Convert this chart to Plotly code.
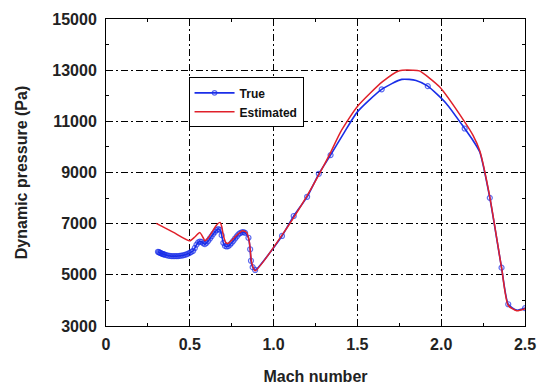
import plotly.graph_objects as go

# True (measured) dynamic pressure
true_mach = [0.31, 0.315, 0.32, 0.325, 0.33, 0.335, 0.34, 0.345, 0.35, 0.36, 0.37, 0.38, 0.39, 0.40,
             0.41, 0.42, 0.43, 0.44, 0.45, 0.46, 0.47, 0.48, 0.49, 0.50, 0.51, 0.52, 0.53, 0.54,
             0.55, 0.56, 0.57, 0.58, 0.59, 0.60, 0.61, 0.62, 0.63, 0.64, 0.65, 0.66, 0.67, 0.68,
             0.69, 0.70, 0.71, 0.72, 0.73, 0.74, 0.75, 0.76, 0.77, 0.78, 0.79, 0.80, 0.81, 0.82,
             0.83, 0.85, 0.86, 0.865, 0.875, 0.89,
             1.05, 1.12, 1.20, 1.27, 1.34, 1.42, 1.50, 1.645, 1.765, 1.85, 1.92,
             2.03, 2.14, 2.19, 2.23, 2.29, 2.36, 2.40, 2.45, 2.50]
true_q = [5900, 5885, 5870, 5855, 5840, 5825, 5810, 5800, 5790, 5770, 5750, 5740, 5730, 5730,
          5730, 5730, 5735, 5740, 5750, 5760, 5780, 5800, 5830, 5860, 5900, 5940, 6050, 6180,
          6270, 6300, 6290, 6230, 6200, 6250, 6330, 6420, 6510, 6600, 6680, 6750, 6790, 6760,
          6550, 6250, 6130, 6110, 6120, 6180, 6250, 6330, 6420, 6500, 6580, 6630, 6660, 6670,
          6640, 6450, 6000, 5550, 5300, 5190,
          6520, 7300, 8050, 8950, 9680, 10550, 11370, 12250, 12640, 12600, 12375,
          11700, 10720, 10250, 9800, 8010, 5280, 3850, 3620, 3700]
# Mach values where the measured series shows a circle marker in the high-Mach range
true_marker_mach_high = [1.05, 1.12, 1.20, 1.27, 1.34, 1.645, 1.92, 2.14, 2.29, 2.36, 2.40, 2.50]

# Estimated dynamic pressure
est_mach = [0.30, 0.40, 0.50, 0.53, 0.56, 0.58, 0.59, 0.61, 0.64, 0.66, 0.68, 0.69,
            0.70, 0.715, 0.73, 0.75, 0.78, 0.815, 0.84, 0.855, 0.87, 0.89,
            1.05, 1.20, 1.34, 1.40, 1.50, 1.65, 1.75, 1.83, 1.87, 1.99, 2.14,
            2.19, 2.23, 2.29, 2.36, 2.40, 2.45, 2.50]
est_q = [7010, 6670, 6330, 6480, 6650, 6450, 6330, 6450, 6750, 6950, 7050, 6900,
         6550, 6260, 6230, 6350, 6550, 6720, 6650, 6300, 5450, 5160,
         6550, 8100, 9780, 10590, 11580, 12550, 12980, 13000, 12970, 12350, 10980,
         10450, 9850, 8050, 5280, 3800, 3600, 3680]

x_ticks = [0, 0.5, 1.0, 1.5, 2.0, 2.5]
x_labels = ["0", "0.5", "1.0", "1.5", "2.0", "2.5"]
y_ticks = [3000, 5000, 7000, 9000, 11000, 13000, 15000]

marker_sizes = [5 if (m < 0.95 or m in true_marker_mach_high) else 0 for m in true_mach]

fig = go.Figure()
fig.add_trace(go.Scatter(
    x=true_mach, y=true_q, name="True", mode="lines+markers",
    line=dict(color="#1a2ee8", width=1.6, shape="spline", smoothing=0.6),
    marker=dict(symbol="circle-open", size=marker_sizes, color="#1a2ee8", line=dict(width=1.2)),
))
fig.add_trace(go.Scatter(
    x=est_mach, y=est_q, name="Estimated", mode="lines",
    line=dict(color="#e0202a", width=1.5, shape="spline", smoothing=0.6),
))

font_family = "Liberation Sans, Arial, sans-serif"
axis_common = dict(
    showline=True, linecolor="black", linewidth=1, mirror="allticks",
    ticks="inside", ticklen=5, tickcolor="black",
    showgrid=True, gridcolor="black", gridwidth=1, griddash="7px,3px,2px,3px",
    zeroline=False, automargin=False,
    tickfont=dict(family=font_family, size=16, color="#222", weight="bold"),
)
fig.update_xaxes(
    range=[0, 2.5], tickvals=x_ticks, ticktext=x_labels,
    minor=dict(ticks="inside", dtick=0.25, ticklen=3, tickcolor="black", showgrid=False),
    title=dict(text="Mach number", font=dict(family=font_family, size=16, color="#222", weight="bold"), standoff=18),
    ticklabelstandoff=4,
    **axis_common,
)
fig.update_yaxes(
    range=[3000, 15000], tickvals=y_ticks, tickformat="d",
    minor=dict(ticks="inside", dtick=1000, ticklen=3, tickcolor="black", showgrid=False),
    title=dict(text="Dynamic pressure (Pa)", font=dict(family=font_family, size=16, color="#222", weight="bold"), standoff=20),
    ticklabelstandoff=5,
    **axis_common,
)
fig.update_layout(
    width=544, height=388,
    margin=dict(l=106, r=19, t=19, b=62),
    paper_bgcolor="white", plot_bgcolor="white",
    showlegend=True,
    legend=dict(
        x=0.197, y=0.81, xanchor="left", yanchor="top",
        bgcolor="white", bordercolor="black", borderwidth=1,
        font=dict(family=font_family, size=12, color="#111", weight="bold"),
        itemwidth=40, tracegroupgap=0,
    ),
)
fig.write_html("out.html")
